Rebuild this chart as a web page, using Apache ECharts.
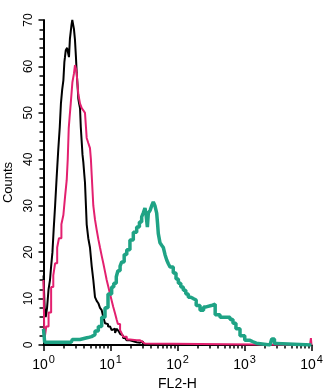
<!DOCTYPE html>
<html>
<head>
<meta charset="utf-8">
<script src="https://cdn.jsdelivr.net/npm/echarts@6/dist/echarts.min.js"></script>
<style>
html,body{margin:0;padding:0;background:#fff;}
#c{width:330px;height:388px;}
</style>
</head>
<body>
<div id="c"></div>
<script>
// FL2-H values and counts
const blackX = [1.0,1.04,1.08,1.13,1.19,1.25,1.3,1.36,1.42,1.49,1.57,1.66,1.75,1.82,1.9,1.98,2.05,2.09,2.15,2.25,2.32,2.4,2.48,2.55,2.62,2.69,2.77,2.85,2.95,3.05,3.13,3.22,3.31,3.4,3.51,3.6,3.72,3.82,3.93,4.05,4.16,4.3,4.41,4.66,4.94,5.24,5.54,5.87,6.22,6.58,6.97,7.39,7.81,8.28,8.77,9.18,9.84,10.4,11.0,11.7,12.4,13.2,13.9,14.7,15.4,16.5,17.5,19.5,21.9,24.6,27.6,29.2,30.5,10000];
const blackY = [15,8,6,8,12,14,17,20,25,30,36,42,47,52,55,57,61,62,63.5,64,63,62,66,67.5,69,70,69,68,65.7,62,58.6,56,53,52,51,47,43.7,41,39.4,37,35,30,26,23,21,17,14,10.3,9.5,9,8,7.5,6,4.7,4.5,4,3.7,3.2,3.5,2.6,3.5,3,2.4,2,1.5,1.2,1,0.8,0.6,0.5,0.4,0.8,0,0];

const pinkX = [1.0,1.03,1.1,1.19,1.3,1.4,1.49,1.6,1.7,1.85,1.98,2.1,2.22,2.3,2.38,2.45,2.55,2.7,2.85,2.95,3.05,3.13,3.22,3.31,3.51,3.72,3.95,4.16,4.3,4.41,4.66,4.94,5.1,5.24,5.4,5.54,5.87,6.22,6.58,6.97,7.39,7.81,8.28,8.77,9.3,9.84,10.4,11.0,11.7,12.4,12.9,13.9,14.7,15.4,17.5,19.5,24.6,27.6,29.2,30.5,32.7,9500,9800,10000];
const pinkY = [14,1,4,7,12.5,15,17.6,21,23,26,28,32,35.5,40,46.7,49,52,56.6,58.5,60.3,59.5,58.6,56,54,52,51,50.5,50,47,44.6,43.5,42.4,40,36.6,33,30,27,24.8,22.8,21,19.2,17.6,15.8,14,12.5,11,9.6,8.2,6.8,5.4,4.5,3.2,2.5,1.8,1.2,1,1,1,0.6,0.3,0,0,1.5,0];

const tealX = [1.0,1.04,2.6,2.7,3.5,4.6,5.2,5.87,6.58,7.39,8.28,9.18,10.4,11.2,12.2,12.9,13.9,14.7,16,17.5,19.5,21.9,24.6,27,29.2,31,32.7,34,35.5,36.7,39,41.2,43.5,46,48.9,50.5,51.7,54.8,58,61.4,65,69,73,77.3,86.5,95,103,112,122,133,145,158,172,190,217,245,268,319,365,431,530,608,673,745,857,1009,1208,1340,1500,2400,2550,2800,3000,10000];
const tealY = [3.5,0.6,0.6,1.2,1.6,1.8,2.2,3,4,6,8,11,12.5,13.3,14.7,16,17,17.9,19.5,20.5,22.6,24.3,25.4,26.5,27.6,28.5,29.5,28,25.4,28.4,29,30,30.8,30,28.4,26,24,22,21.5,21,19.5,18.3,17.5,16.8,15.5,14.2,13.3,12.5,11.8,11,10.3,10,9.7,8.5,7.5,8.2,8.5,8.8,6.5,6,6,5.5,4.7,3.5,2,1,0.7,0.4,0,0,1.3,0.3,0,0];

const yTicks = [0,10,20,30,40,50,60,70];
const xDecades = [1,10,100,1000,10000];
const xMinor = [2,3,4,5,6,7,8,9,20,30,40,50,60,70,80,90,200,300,400,500,600,700,800,900,2000,3000,4000,5000,6000,7000,8000,9000];

function pairs(xs, ys){ return xs.map((x,i)=>[x, ys[i]]); }

const chart = echarts.init(document.getElementById('c'), null, {renderer:'canvas'});
const font = 'Liberation Sans, Arial, sans-serif';
chart.setOption({
  animation:false,
  backgroundColor:'#fff',
  grid:{left:43.5, right:18.5, top:20, bottom:43, containLabel:false, outerBoundsMode:'none'},
  xAxis:[{
    type:'log', logBase:10, min:1, max:10000,
    name:'FL2-H', nameLocation:'middle', nameGap:28,
    nameTextStyle:{color:'#000', fontSize:14, fontFamily:font},
    axisLine:{show:true, onZero:false, lineStyle:{color:'#000', width:2}},
    axisTick:{show:true, inside:false, length:6, lineStyle:{color:'#000', width:1.5}},
    minorTick:{show:false},
    splitLine:{show:false},
    axisLabel:{
      margin:9, color:'#000', fontFamily:font,
      formatter:function(v){ const e = Math.round(Math.log10(v)); return '{b|10}{s|' + e + '}'; },
      rich:{
        b:{fontSize:14, fontFamily:font, color:'#000', lineHeight:18, verticalAlign:'bottom'},
        s:{fontSize:11, fontFamily:font, color:'#000', lineHeight:18, verticalAlign:'top', padding:[0,0,0,1]}
      }
    }
  },{
    type:'log', logBase:10, min:1, max:10000, position:'bottom',
    axisLine:{show:false},
    axisTick:{show:true, inside:false, length:3.5, customValues:xMinor, lineStyle:{color:'#000', width:1.5}},
    axisLabel:{show:false},
    splitLine:{show:false}
  }],
  yAxis:{
    type:'value', min:0, max:70, interval:10,
    name:'Counts', nameLocation:'middle', nameGap:29, nameRotate:90,
    nameTextStyle:{color:'#000', fontSize:13, fontFamily:font},
    axisLine:{show:true, lineStyle:{color:'#000', width:2}},
    axisTick:{show:true, inside:false, length:5, lineStyle:{color:'#000', width:1.5}},
    minorTick:{show:true, splitNumber:5, length:4, lineStyle:{color:'#000', width:1.5}},
    splitLine:{show:false},
    axisLabel:{rotate:90, margin:9, color:'#000', fontSize:12, fontFamily:font}
  },
  series:[
    {type:'line', step:'end', data:pairs(blackX, blackY), showSymbol:false, symbol:'none',
     lineStyle:{color:'#000', width:2}, z:2},
    {type:'line', step:'end', data:pairs(pinkX, pinkY), showSymbol:false, symbol:'none',
     lineStyle:{color:'#e3206f', width:2}, z:3},
    {type:'line', step:'end', data:pairs(tealX, tealY), showSymbol:false, symbol:'none',
     lineStyle:{color:'#1fa385', width:3.5}, z:4}
  ]
});
</script>
</body>
</html>
